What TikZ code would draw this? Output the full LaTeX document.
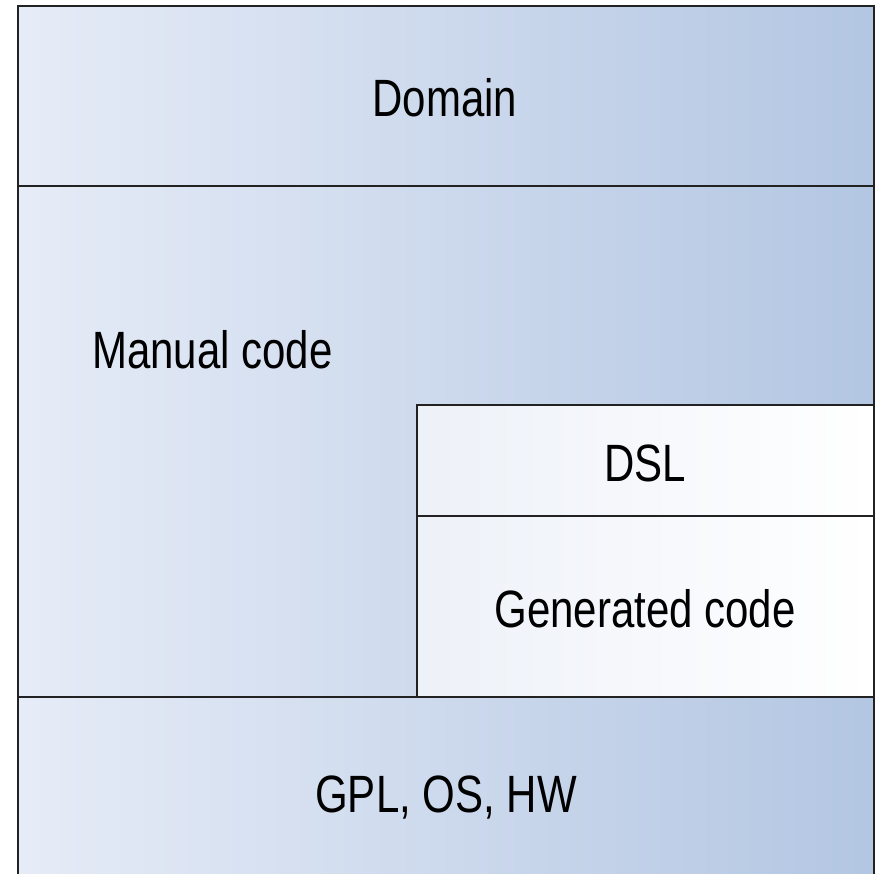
\documentclass[tikz,border=0pt]{standalone}
\usepackage{fontspec}
\usepackage{graphicx}
\setmainfont{Liberation Sans}
\definecolor{bl}{HTML}{E6ECF7}
\definecolor{br}{HTML}{B3C6E2}
\definecolor{wl}{HTML}{EDF1F8}
\definecolor{wr}{HTML}{FFFFFF}
\definecolor{ln}{HTML}{222222}
\newcommand\tallText[1]{\scalebox{1}[1.25]{#1}}
\tikzset{
  layer/.style={left color=bl, right color=br, draw=ln, line width=2pt},
  inner/.style={left color=wl, right color=wr, draw=ln, line width=2pt},
  lbl/.style={font=\fontsize{42}{48}\selectfont, text=black, inner sep=0pt, anchor=base}
}
\begin{document}
\begin{tikzpicture}[x=1pt,y=-1pt]
\useasboundingbox (0,0) rectangle (877,873);
\begin{scope}
\clip (0,0) rectangle (877,873);
\fill[white] (0,0) rectangle (877,873);
\path[layer] (18,6) rectangle (874,186);
\path[layer] (18,186) rectangle (874,697);
\path[layer] (18,697) rectangle (874,890);
\path[inner] (417,405) rectangle (874,516);
\path[inner] (417,516) rectangle (874,697);
\end{scope}
\node[lbl] (domain) at (445,116) {\tallText{Domain}};
\node[lbl, anchor=base west] (manual) at (92,368) {\tallText{Manual code}};
\node[lbl] (dsl) at (645,481) {\tallText{DSL}};
\node[lbl] (gen) at (645,627) {\tallText{Generated code}};
\node[lbl] (gpl) at (446,812) {\tallText{GPL, OS, HW}};
\end{tikzpicture}
\end{document}
